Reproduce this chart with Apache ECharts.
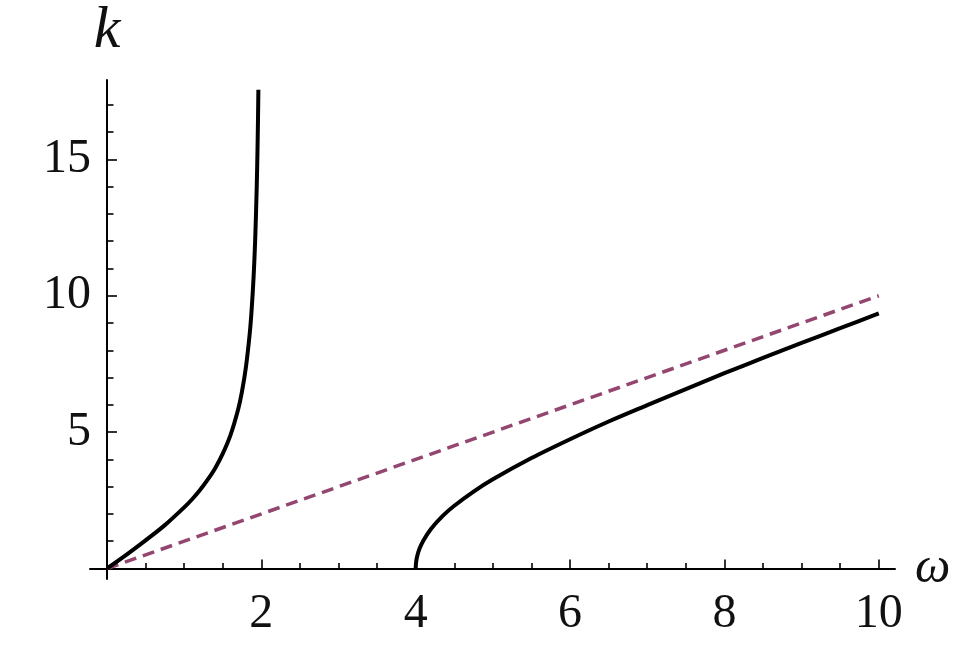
<!DOCTYPE html>
<html>
<head>
<meta charset="utf-8">
<script src="https://cdn.jsdelivr.net/npm/echarts@6/dist/echarts.min.js"></script>
<style>
html,body{margin:0;padding:0;background:#fff;}
#chart{width:964px;height:645px;}
</style>
</head>
<body>
<div id="chart"></div>
<script>
// Branch below omega = 2
const lowBranch = [
  [0, 0], [0.25, 0.50], [0.5, 1.03], [0.75, 1.59], [1.0, 2.24], [1.1, 2.53],
  [1.2, 2.86], [1.3, 3.24], [1.4, 3.67], [1.5, 4.21], [1.6, 4.89], [1.7, 5.84],
  [1.75, 6.50], [1.8, 7.38], [1.85, 8.63], [1.875, 9.52], [1.9, 10.71],
  [1.92, 12.03], [1.94, 13.96], [1.95, 15.32], [1.955, 16.17], [1.958, 16.75],
  [1.961, 17.39], [1.9617, 17.55]
];
// Branch above omega = 4
const highBranch = [
  [4.0, 0], [4.005, 0.23], [4.02, 0.46], [4.05, 0.73], [4.1, 1.03], [4.2, 1.46],
  [4.35, 1.93], [4.5, 2.30], [4.75, 2.82], [5.0, 3.27], [5.5, 4.05], [6.0, 4.74],
  [6.5, 5.39], [7.0, 5.99], [7.5, 6.58], [8.0, 7.16], [8.5, 7.72], [9.0, 8.27],
  [9.5, 8.81], [10.0, 9.35]
];
// Dashed reference line k = omega
const lightLine = [[0, 0], [10, 10]];

const xMajorTicks = [2, 4, 6, 8, 10];
const xMinorTicks = [0.5, 1, 1.5, 2.5, 3, 3.5, 4.5, 5, 5.5, 6.5, 7, 7.5, 8.5, 9, 9.5];
const yMajorTicks = [5, 10, 15];
const yMinorTicks = [1, 2, 3, 4, 6, 7, 8, 9, 11, 12, 13, 14, 16, 17];

const FONT = 'Liberation Serif';
const chart = echarts.init(document.getElementById('chart'), null, {renderer: 'canvas'});

const xMin = -0.22, xMax = 10.21, yMin = -0.385, yMax = 17.91;
const axisCommon = {type: 'value', splitLine: {show: false}};

chart.setOption({
  animation: false,
  backgroundColor: '#ffffff',
  grid: {left: 90, right: 69, top: 80, bottom: 66, containLabel: false},
  xAxis: [
    Object.assign({}, axisCommon, {
      min: xMin, max: xMax, position: 'bottom',
      axisLine: {show: true, onZero: true, lineStyle: {color: '#000', width: 2}},
      axisTick: {show: true, inside: true, length: 9, customValues: xMajorTicks, lineStyle: {color: '#000', width: 1.6}},
      axisLabel: {show: true, customValues: xMajorTicks, margin: 11, color: '#111', fontFamily: FONT, fontSize: 48},
      name: 'ω', nameLocation: 'end', nameGap: 20,
      nameTextStyle: {fontFamily: FONT, fontStyle: 'italic', fontSize: 50, color: '#111', verticalAlign: 'middle', padding: [4, 0, 0, 0]}
    }),
    Object.assign({}, axisCommon, {
      min: xMin, max: xMax, position: 'bottom',
      axisLine: {show: false, onZero: true},
      axisTick: {show: true, inside: true, length: 5.5, customValues: xMinorTicks, lineStyle: {color: '#000', width: 1.6}},
      axisLabel: {show: false}
    })
  ],
  yAxis: [
    Object.assign({}, axisCommon, {
      min: yMin, max: yMax, position: 'left',
      axisLine: {show: true, onZero: true, lineStyle: {color: '#000', width: 2}},
      axisTick: {show: true, inside: true, length: 10, customValues: yMajorTicks, lineStyle: {color: '#000', width: 1.6}},
      axisLabel: {show: true, customValues: yMajorTicks, margin: -1, color: '#111', fontFamily: FONT, fontSize: 48},
      name: 'k', nameLocation: 'end', nameGap: 19,
      nameTextStyle: {fontFamily: FONT, fontStyle: 'italic', fontSize: 60, color: '#111', align: 'center'}
    }),
    Object.assign({}, axisCommon, {
      min: yMin, max: yMax, position: 'left',
      axisLine: {show: false, onZero: true},
      axisTick: {show: true, inside: true, length: 6.5, customValues: yMinorTicks, lineStyle: {color: '#000', width: 1.6}},
      axisLabel: {show: false}
    })
  ],
  series: [
    {
      type: 'line', name: 'lower', data: lowBranch, xAxisIndex: 0, yAxisIndex: 0,
      showSymbol: false, smooth: 0.3, clip: false,
      lineStyle: {color: '#000', width: 4}
    },
    {
      type: 'line', name: 'upper', data: highBranch, xAxisIndex: 0, yAxisIndex: 0,
      showSymbol: false, smooth: 0.3, clip: false,
      lineStyle: {color: '#000', width: 4}
    },
    {
      type: 'line', name: 'light', data: lightLine, xAxisIndex: 0, yAxisIndex: 0,
      showSymbol: false, clip: false, z: 1,
      lineStyle: {color: '#93466f', width: 3.5, type: [12, 7]}
    }
  ]
});
</script>
</body>
</html>
